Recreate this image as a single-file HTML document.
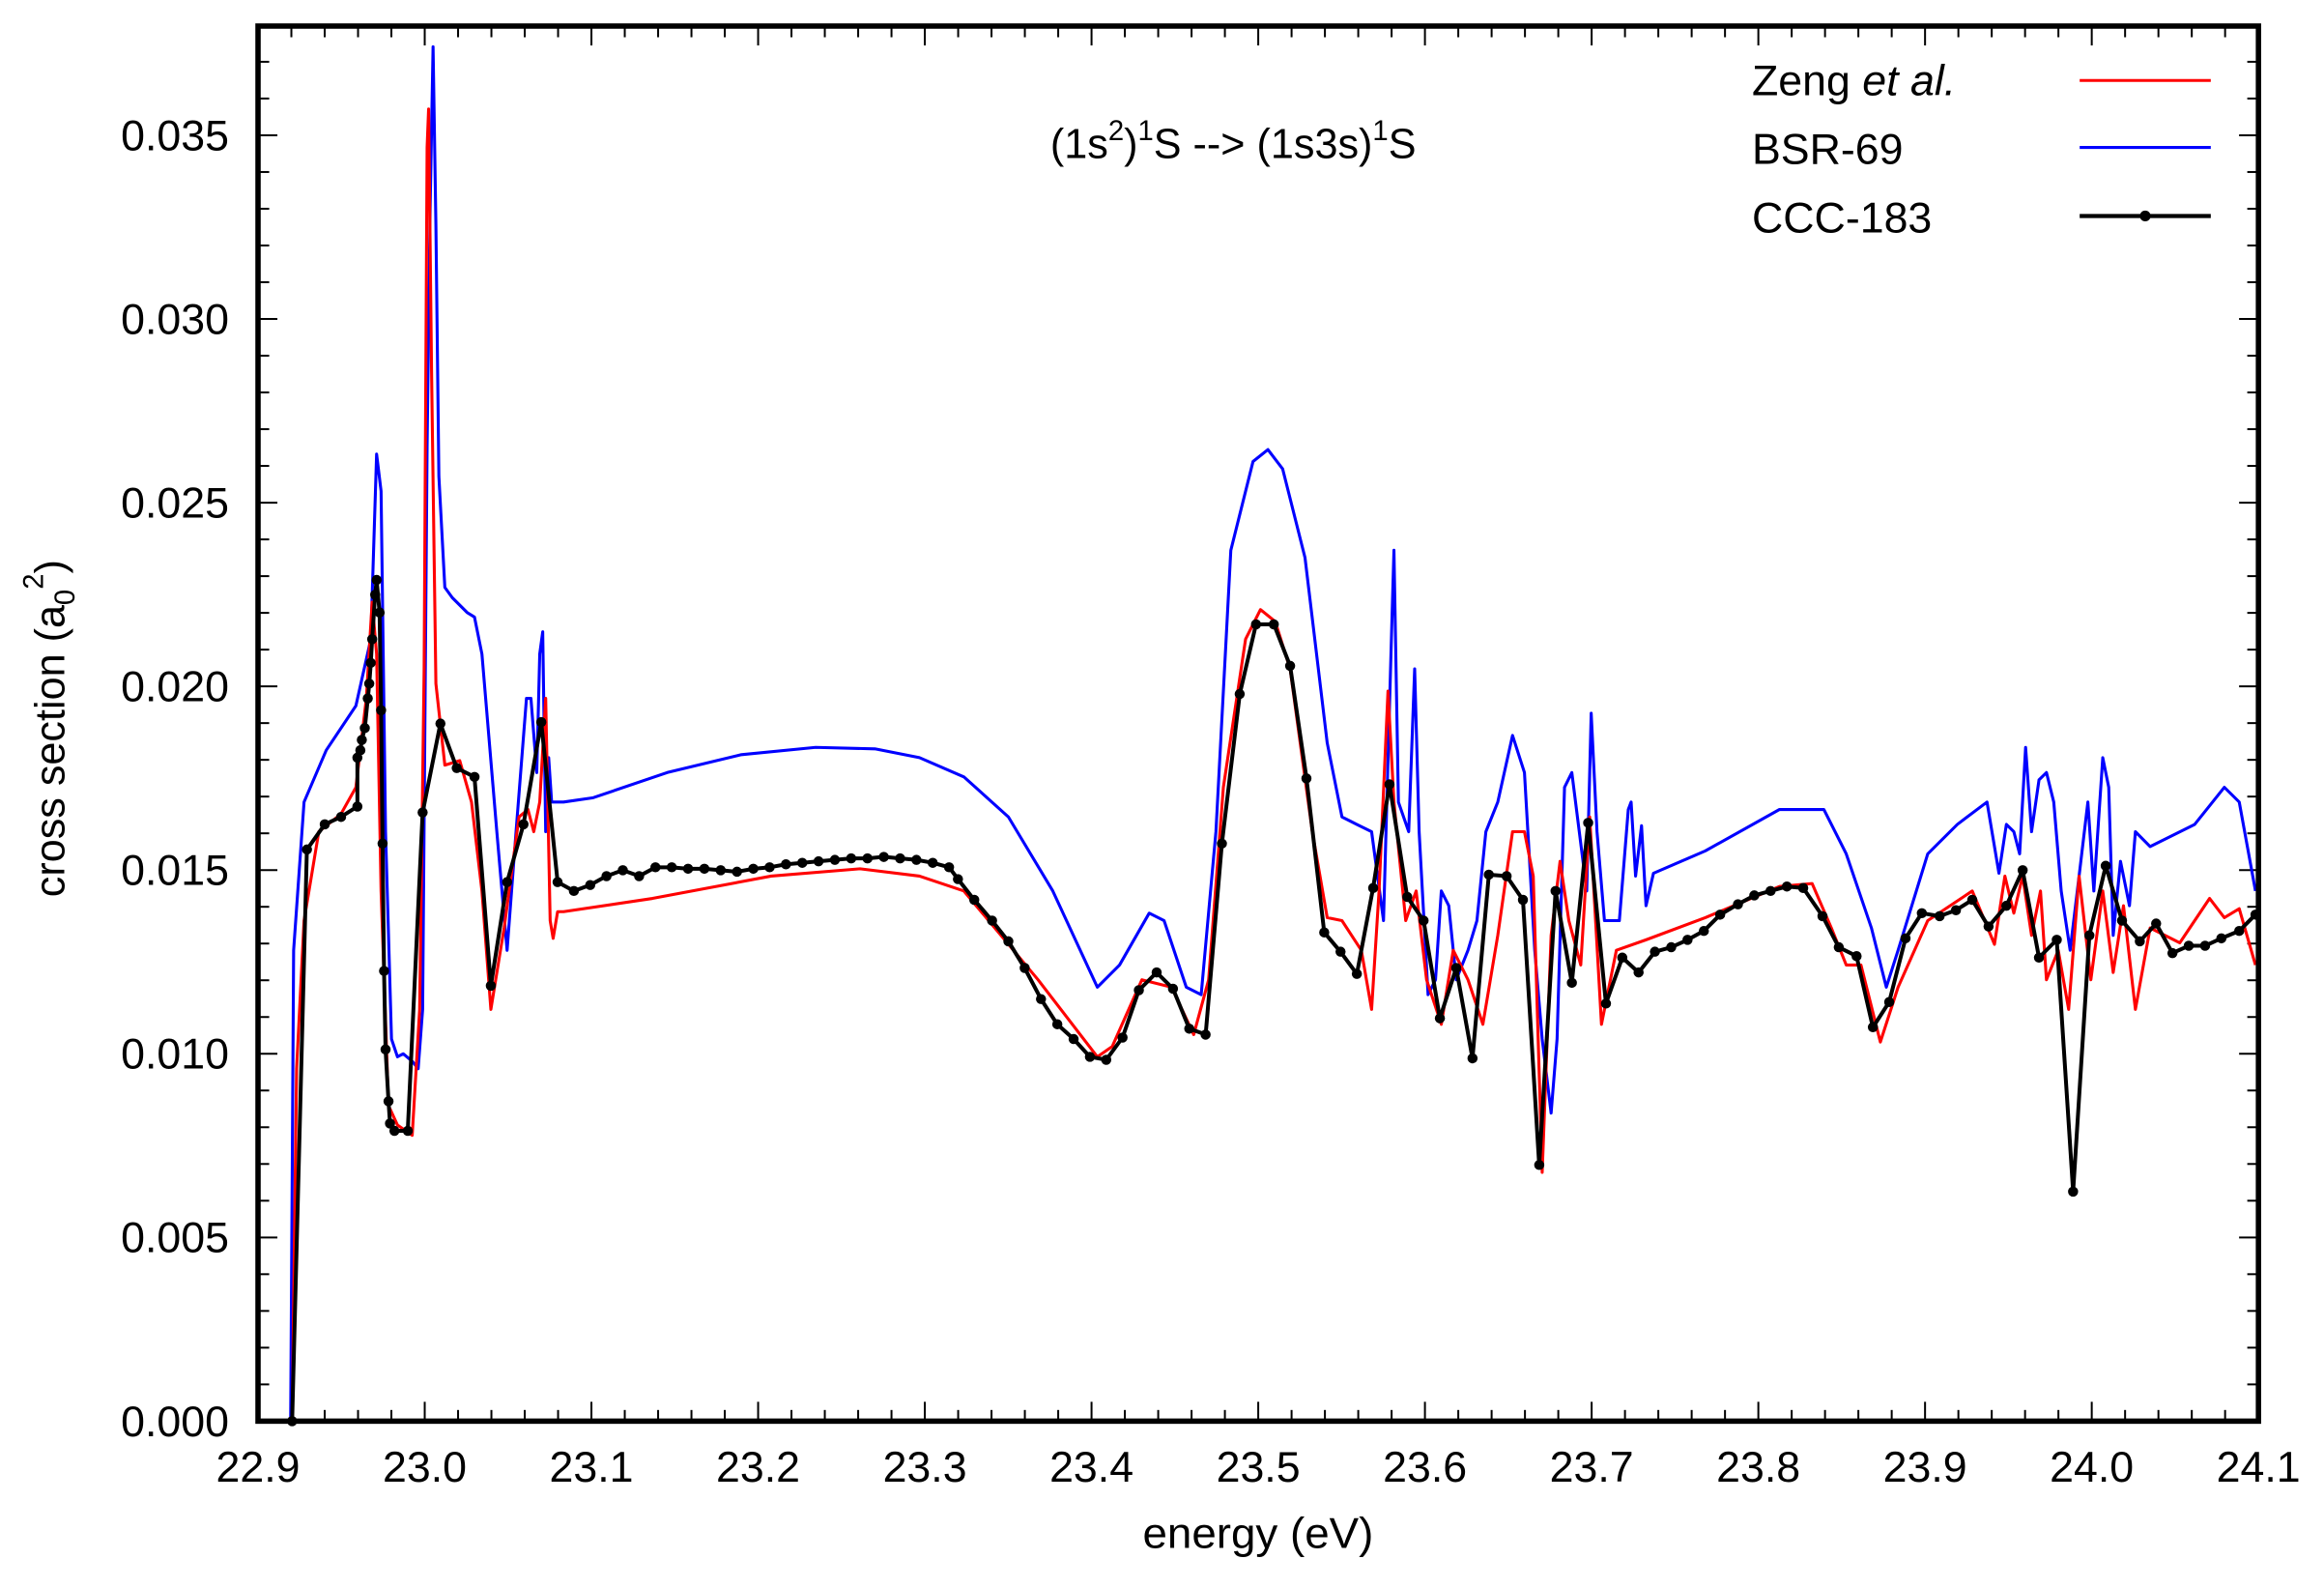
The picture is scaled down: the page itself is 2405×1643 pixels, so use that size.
<!DOCTYPE html>
<html><head><meta charset="utf-8"><style>
html,body{margin:0;padding:0;background:#fff;}
svg{display:block;}
text{font-family:"Liberation Sans",Arial,sans-serif;fill:#000;}
</style></head><body>
<svg id="s" width="2405" height="1643" viewBox="0 0 1560 1066" preserveAspectRatio="none" xmlns="http://www.w3.org/2000/svg">
<rect x="0" y="0" width="1560" height="1066" fill="#fff"/>
<g id="ticks" stroke="#000" stroke-width="1.3"></g>
<g id="lab" font-size="29"></g>
<text x="767" y="1039" font-size="29" textLength="155" lengthAdjust="spacingAndGlyphs">energy (eV)</text>
<text transform="translate(43,489) rotate(-90)" font-size="28" text-anchor="middle">cross section (a<tspan font-size="19" dy="7">0</tspan><tspan font-size="19" dy="-21">2</tspan><tspan dy="14">)</tspan></text>
<text x="705" y="106" font-size="28">(1s<tspan font-size="19" dy="-12">2</tspan><tspan dy="12">)</tspan><tspan font-size="19" dy="-12">1</tspan><tspan dy="12">S --&gt; (1s3s)</tspan><tspan font-size="19" dy="-12">1</tspan><tspan dy="12">S</tspan></text>
<text x="1176" y="64" font-size="29">Zeng <tspan font-style="italic">et al.</tspan></text>
<text x="1176" y="110" font-size="29">BSR-69</text>
<text x="1176" y="156" font-size="29">CCC-183</text>
<line x1="1396" y1="54" x2="1484" y2="54" stroke="#f00" stroke-width="2"/>
<line x1="1396" y1="99" x2="1484" y2="99" stroke="#00f" stroke-width="2"/>
<line x1="1396" y1="145" x2="1484" y2="145" stroke="#000" stroke-width="2.8"/>
<circle cx="1440" cy="145" r="3.6" fill="#000"/>
<polyline id="blue" fill="none" stroke="#00f" stroke-width="2" stroke-linejoin="round"/>
<polyline id="red" fill="none" stroke="#f00" stroke-width="2" stroke-linejoin="round"/>
<polyline id="black" fill="none" stroke="#000" stroke-width="2.6" stroke-linejoin="round"/>
<g id="dots" fill="#000"></g>
<rect x="173.2" y="17.5" width="1342.8" height="936.5" fill="none" stroke="#000" stroke-width="3.6"/>
</svg>
<script>
var blk=[[197,958],[207,572],[219,555],[230,550],[241,543],[241,510],[243,505],[244,498],[246,490],[248,470],[249,460],[250,446],[251,430],[253,400],[254,390],[256,412],[257,478],[258,568],[259,654],[260,707],[262,742],[263,757],[266,762],[275,762],[285,547],[297,487],[308,517],[320,523],[331,664],[342,594],[353,555],[365,486],[376,594],[387,600],[398,596],[409,590],[420,586],[431,590],[442,584],[453,584],[464,585],[475,585],[486,586],[497,587],[508,585],[519,584],[530,582],[541,581],[552,580],[563,579],[574,578],[585,578],[596,577],[607,578],[618,579],[629,581],[640,584],[646,592],[657,606],[669,620],[680,634],[691,652],[702,673],[713,690],[724,700],[735,712],[746,714],[757,699],[768,667],[780,655],[791,666],[802,693],[813,697],[824,568],[836,467],[847,420],[859,420],[870,448],[881,524],[893,628],[904,641],[915,656],[926,598],[937,528],[949,604],[960,620],[971,686],[982,652],[993,713],[1004,589],[1016,590],[1027,606],[1038,785],[1049,600],[1060,662],[1071,554],[1083,676],[1094,645],[1105,655],[1116,641],[1127,638],[1138,633],[1149,627],[1160,616],[1172,609],[1183,603],[1194,600],[1205,597],[1216,598],[1229,617],[1240,638],[1252,644],[1263,692],[1274,675],[1285,632],[1296,615],[1308,617],[1319,613],[1330,606],[1341,624],[1353,610],[1364,586],[1375,645],[1387,633],[1398,803],[1409,630],[1420,583],[1431,620],[1443,634],[1454,622],[1465,642],[1476,637],[1487,637],[1498,632],[1510,627],[1521,616]];
var red=[[197,958],[200,720],[205,620],[215,560],[230,548],[240,530],[247,470],[251,405],[254,440],[257,600],[262,745],[268,758],[278,765],[283,680],[286,450],[288,98],[289,72],[291,250],[294,460],[300,515],[310,512],[318,540],[325,600],[331,680],[340,625],[350,550],[356,545],[360,560],[364,540],[368,470],[371,620],[373,632],[376,614],[380,614],[440,605],[520,590],[580,585],[620,590],[650,600],[700,660],[740,712],[750,705],[770,660],[790,665],[805,697],[815,660],[825,530],[840,430],[850,410],[860,418],[870,450],[885,560],[895,618],[905,620],[918,640],[925,680],[930,600],[936,465],[940,540],[948,620],[955,600],[962,660],[972,690],[980,640],[990,660],[1000,690],[1010,630],[1020,560],[1028,560],[1034,590],[1040,790],[1046,630],[1052,580],[1058,620],[1066,650],[1072,550],[1080,690],[1090,640],[1110,633],[1150,618],[1200,597],[1222,595],[1235,625],[1245,650],[1255,650],[1268,702],[1280,665],[1300,620],[1330,600],[1345,636],[1352,590],[1358,615],[1364,590],[1370,630],[1376,600],[1380,660],[1388,640],[1395,680],[1402,590],[1410,660],[1418,600],[1425,655],[1432,610],[1440,680],[1450,625],[1470,635],[1490,605],[1500,618],[1510,612],[1521,650]];
var blue=[[196,958],[198,640],[205,540],[220,505],[240,475],[250,430],[254,305],[257,330],[260,560],[264,700],[268,712],[272,710],[278,715],[282,720],[285,680],[288,300],[290,140],[292,30],[294,150],[296,320],[300,395],[305,402],[315,412],[320,415],[325,440],[335,560],[342,640],[348,560],[355,470],[358,470],[362,520],[364,440],[366,425],[368,560],[370,510],[372,540],[380,540],[400,537],[450,520],[500,508],[550,503],[590,504],[620,510],[650,523],[680,550],[710,600],[740,665],[755,650],[775,615],[785,620],[800,665],[810,670],[820,560],[830,370],[845,310],[855,302],[865,315],[880,375],[895,500],[905,550],[915,555],[925,560],[933,620],[938,440],[940,370],[943,540],[950,560],[954,450],[957,560],[963,670],[968,660],[972,600],[977,610],[982,660],[990,640],[996,620],[1002,560],[1010,540],[1020,495],[1028,520],[1035,640],[1040,700],[1046,750],[1050,700],[1055,530],[1060,520],[1065,560],[1070,600],[1073,480],[1077,560],[1082,620],[1092,620],[1098,545],[1100,540],[1103,590],[1107,556],[1110,610],[1115,588],[1150,573],[1200,545],[1230,545],[1245,575],[1262,625],[1272,665],[1280,640],[1300,575],[1320,555],[1340,540],[1348,588],[1353,555],[1358,560],[1362,575],[1366,503],[1370,560],[1375,525],[1380,520],[1385,540],[1390,600],[1396,640],[1402,590],[1408,540],[1412,600],[1418,510],[1422,530],[1425,630],[1430,580],[1436,610],[1440,560],[1450,570],[1480,555],[1500,530],[1510,540],[1521,600]];
function tr(p){return [173.2+(p[0]-174)*(1342.8/1349),17.5+(p[1]-16)*(936.5/942)];}
function pts(a){return a.map(function(p){p=tr(p);return p[0].toFixed(1)+","+p[1].toFixed(1);}).join(" ");}
document.getElementById("blue").setAttribute("points",pts(blue));
document.getElementById("red").setAttribute("points",pts(red));
document.getElementById("black").setAttribute("points",pts(blk));
var NS="http://www.w3.org/2000/svg",d=document.getElementById("dots");
blk.forEach(function(p){p=tr(p);var c=document.createElementNS(NS,"circle");c.setAttribute("cx",p[0]);c.setAttribute("cy",p[1]);c.setAttribute("r",3.4);d.appendChild(c);});
var t=document.getElementById("ticks"),lab=document.getElementById("lab");
function ln(x1,y1,x2,y2){var l=document.createElementNS(NS,"line");l.setAttribute("x1",x1);l.setAttribute("y1",y1);l.setAttribute("x2",x2);l.setAttribute("y2",y2);t.appendChild(l);}
function tx(x,y,s,a){var e=document.createElementNS(NS,"text");e.setAttribute("x",x);e.setAttribute("y",y);e.setAttribute("text-anchor",a);e.textContent=s;lab.appendChild(e);}
var L=173.2,R=1516,T=17.5,B=954,dx=(R-L)/60;
for(var i=0;i<=60;i++){var x=L+i*dx,m=(i%5==0),h=m?13:7.5;ln(x,B,x,B-h);ln(x,T,x,T+h);
 if(m){tx(x,994.6,(22.9+i/50).toFixed(1),"middle");}}
var ddy=(B-90.8)/35;
for(var j=0;j<=37;j++){var y=B-j*ddy;if(y<T)break;var m2=(j%5==0),h2=m2?13:7.5;ln(L,y,L+h2,y);ln(R,y,R-h2,y);
 if(m2){tx(153.7,y+10,(j*0.001).toFixed(3),"end");}}
</script>
</body></html>
